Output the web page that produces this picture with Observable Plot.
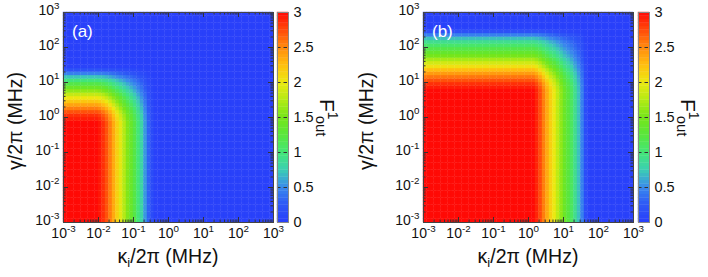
<!DOCTYPE html>
<html><head><meta charset="utf-8">
<script src="https://cdn.jsdelivr.net/npm/d3@7"></script>
<script src="https://cdn.jsdelivr.net/npm/@observablehq/plot@0.6"></script>
<style>
html,body{margin:0;padding:0;background:#fff;}
#chart{position:relative;width:708px;height:277px;overflow:hidden;font-family:"Liberation Sans",Arial,sans-serif;}
#chart svg{position:absolute;top:0;overflow:visible;max-width:none;}
</style></head><body><div id="chart"></div>
<script>
// ---- data ----
const exponents = [-3, -2, -1, 0, 1, 2, 3];           // axis decades (tick labels 10^e)
const colorbarTicks = [0, 0.5, 1, 1.5, 2, 2.5, 3];
const colorStops = [0, 0.25, 0.5, 0.75, 1, 1.25, 1.5, 1.75, 2, 2.25, 2.5, 2.75, 3];
const colorRange = ["#2a40fa", "#2e58f6", "#3a8aec", "#3ccfb2", "#44e676", "#5ae63c", "#76e61a",
                    "#b4ea16", "#ece812", "#ffbe10", "#ff8a0e", "#ff4a0a", "#ff0a06"];
const panelTags = ["(a)", "(b)"];
// F along the kappa axis (bottom row, 10 cells per decade from 1e-3 to 1e3)
const kappaProfileA = [3,3,3,3,3,3,3,3,3,3, 2.95,2.85,2.72,2.55,2.35,2.15,1.95,1.75,1.55,1.38,
  1.2,1.0,0.8,0.55,0.3,0.12,0.03,0.02,0.02,0.02, 0.02,0.02,0.02,0.02,0.02,0.02,0.02,0.02,0.02,0.02,
  0.02,0.02,0.02,0.02,0.02,0.02,0.02,0.02,0.02,0.02, 0.02,0.02,0.02,0.02,0.02,0.02,0.02,0.02,0.02,0.02];
// F along the gamma axis (left column)
const gammaProfileA = [3,3,3,3,3,3,3,3,3,3, 3,3,3,3,3,3,3,3,3,3, 3,3,3,3,3,3,3,3,3,2.92,
  2.85,2.72,2.55,2.38,2.2,2.02,1.82,1.6,1.4,1.2, 0.98,0.72,0.45,0.2,0.04,0.02,0.02,0.02,0.02,0.02,
  0.02,0.02,0.02,0.02,0.02,0.02,0.02,0.02,0.02,0.02];
const kappaProfileB = [3,3,3,3,3,3,3,3,3,3, 3,3,3,3,3,3,3,3,3,3, 3,3,3,3,3,3,3,3,3,3,
  3,3,2.9,2.75,2.55,2.35,2.15,2.0,1.8,1.6, 1.4,1.25,1.1,0.9,0.7,0.45,0.15,0.03,0.02,0.02,
  0.02,0.02,0.02,0.02,0.02,0.02,0.02,0.02,0.02,0.02];
const gammaProfileB = [3,3,3,3,3,3,3,3,3,3, 3,3,3,3,3,3,3,3,3,3, 3,3,3,3,3,3,3,3,3,3,
  3,3,3,3,3,3,3,3,2.93,2.85, 2.72,2.58,2.42,2.25,2.05,1.88,1.7,1.5,1.35,1.2,
  1.05,0.9,0.7,0.45,0.18,0.03,0.02,0.02,0.02,0.02];

// ---- helpers ----
const NS = "http://www.w3.org/2000/svg";
const FONT = "'Liberation Sans', Arial, sans-serif";
const majors = exponents.map(e => 10 ** e);
const minors = exponents.slice(0, -1).flatMap(e => [2,3,4,5,6,7,8,9].map(m => m * 10 ** e));
const nCells = kappaProfileA.length;
const edges = d3.range(nCells + 1).map(i => 10 ** (exponents[0] + i * (exponents.length - 1) / nCells));
const chart = document.getElementById("chart");

function addText(svg, {x, y, rotate = 0, anchor = "start", size, fill = "#111", parts}) {
  const t = document.createElementNS(NS, "text");
  t.setAttribute("transform", `translate(${x},${y}) rotate(${rotate})`);
  t.setAttribute("text-anchor", anchor);
  t.style.fontFamily = FONT;
  t.style.fontSize = size + "px";
  t.setAttribute("fill", fill);
  for (const [s, o = {}] of parts) {
    const ts = document.createElementNS(NS, "tspan");
    if (o.dy != null) ts.setAttribute("dy", o.dy);
    if (o.dx != null) ts.setAttribute("dx", o.dx);
    if (o.size) ts.style.fontSize = o.size + "px";
    ts.textContent = s;
    t.appendChild(ts);
  }
  svg.appendChild(t);
}

function powerLabels(svg, size) {
  svg.querySelectorAll('g[aria-label$="tick label"] text').forEach(t => {
    const e = t.textContent;
    t.textContent = "10";
    t.style.fontSize = size + "px";
    const ts = document.createElementNS(NS, "tspan");
    ts.setAttribute("dy", -0.45 * size);
    ts.style.fontSize = (0.7 * size) + "px";
    ts.textContent = e;
    t.appendChild(ts);
  });
}

const colorScale = {type: "linear", domain: colorStops, range: colorRange, clamp: true};

function makePanel({left, marginLeft, kappa, gamma, tag, cbLeft, yTitleX}) {
  const W = 210, H = 277, top = 12, bottom = 55;
  const cells = [];
  kappa.forEach((kv, i) => gamma.forEach((gv, j) =>
    cells.push({x1: edges[i], x2: edges[i + 1], y1: edges[j], y2: edges[j + 1], v: kv * gv / 3})));
  const tk = {stroke: "#333", strokeWidth: 1};
  const svg = Plot.plot({
    width: 354, height: H,
    marginLeft, marginRight: 354 - marginLeft - W, marginTop: top, marginBottom: bottom,
    x: {type: "log", domain: [majors[0], majors[majors.length - 1]], label: null},
    y: {type: "log", domain: [majors[0], majors[majors.length - 1]], label: null},
    color: colorScale,
    style: {fontFamily: FONT, fontSize: "14px", color: "#111", background: "transparent", overflow: "visible"},
    marks: [
      Plot.rect(cells, {x1: "x1", x2: "x2", y1: "y1", y2: "y2", fill: "v", stroke: "v", strokeWidth: 0.4}),
      Plot.tickX(majors, {x: d => d, insetTop: W - 5, ...tk}),
      Plot.tickX(majors, {x: d => d, insetBottom: W - 5, ...tk}),
      Plot.tickX(minors, {x: d => d, insetTop: W - 2.5, ...tk}),
      Plot.tickX(minors, {x: d => d, insetBottom: W - 2.5, ...tk}),
      Plot.tickY(majors, {y: d => d, insetRight: W - 5, ...tk}),
      Plot.tickY(majors, {y: d => d, insetLeft: W - 5, ...tk}),
      Plot.tickY(minors, {y: d => d, insetRight: W - 2.5, ...tk}),
      Plot.tickY(minors, {y: d => d, insetLeft: W - 2.5, ...tk}),
      Plot.frame({stroke: "#444"}),
      Plot.axisX(majors, {tickSize: 0, tickPadding: 6, label: null,
        tickFormat: d => String(Math.round(Math.log10(d)))}),
      Plot.axisY(majors, {tickSize: 0, tickPadding: 4, dy: -2, label: null,
        tickFormat: d => String(Math.round(Math.log10(d)))})
    ]
  });
  svg.style.left = left + "px";
  powerLabels(svg, 14);
  addText(svg, {x: marginLeft + 9, y: 37, size: 17, fill: "#fff", parts: [[tag]]});
  addText(svg, {x: marginLeft + W / 2, y: 263, anchor: "middle", size: 19.5,
    parts: [["κ"], ["i", {dy: 4, size: 13}], ["/2π (MHz)", {dy: -4}]]});
  addText(svg, {x: yTitleX, y: 121, rotate: -90, anchor: "middle", size: 19.5, parts: [["γ/2π (MHz)"]]});
  chart.appendChild(svg);

  // colour bar
  const barW = 11;
  const steps = d3.range(0, 3, 0.05);
  const cb = Plot.plot({
    width: 70, height: H, marginLeft: 0, marginRight: 70 - barW, marginTop: top, marginBottom: bottom,
    x: {domain: [0, 1], axis: null},
    y: {domain: [0, 3], label: null},
    color: colorScale,
    style: {fontFamily: FONT, fontSize: "14.5px", color: "#111", background: "transparent", overflow: "visible"},
    marks: [
      Plot.rect(steps, {x1: () => 0, x2: () => 1, y1: d => d, y2: d => d + 0.05, fill: d => d + 0.025,
        stroke: d => d + 0.025, strokeWidth: 0.4}),
      Plot.ruleY(colorbarTicks.slice(1, -1), {stroke: "#333", strokeWidth: 1, strokeDasharray: "3.5,3"}),
      Plot.frame({stroke: "#888"}),
      Plot.axisY(colorbarTicks, {anchor: "right", tickSize: 0, tickPadding: 5, label: null,
        tickFormat: d => String(d)})
    ]
  });
  cb.style.left = cbLeft + "px";
  cb.querySelectorAll('g[aria-label$="tick label"] text').forEach(t => { t.style.fontSize = "14.5px"; });
  addText(cb, {x: 43, y: 99, rotate: 90, size: 21,
    parts: [["F"], ["1", {dy: -8, size: 14}], ["out", {dy: 12, dx: -4, size: 15}]]});
  chart.appendChild(cb);
}

makePanel({left: 0, marginLeft: 63, kappa: kappaProfileA, gamma: gammaProfileA, tag: panelTags[0], cbLeft: 277, yTitleX: 22});
makePanel({left: 354, marginLeft: 69, kappa: kappaProfileB, gamma: gammaProfileB, tag: panelTags[1], cbLeft: 638, yTitleX: 19});
</script></body></html>
